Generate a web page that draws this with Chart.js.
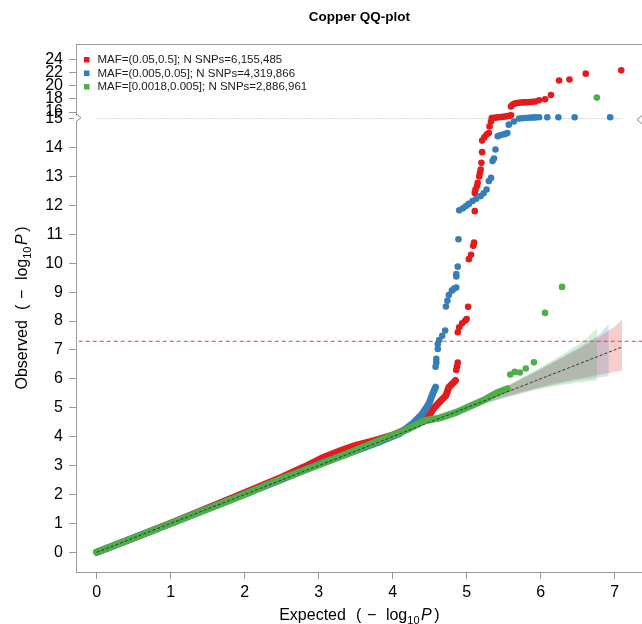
<!DOCTYPE html>
<html>
<head>
<meta charset="utf-8">
<script src="https://cdn.jsdelivr.net/npm/chart.js@4.4.1/dist/chart.umd.min.js"></script>
<style>
  body { margin: 0; background: #fff; }
  #wrap { width: 642px; height: 624px; overflow: hidden; }
  canvas { display: block; }
</style>
</head>
<body>
<div id="wrap"><canvas id="qq" width="646" height="624"></canvas></div>
<script>
// ---------------- data (x = expected, y = observed) ----------------
const seriesLabels = [
    'MAF=(0.05,0.5]; N SNPs=6,155,485',
    'MAF=(0.005,0.05]; N SNPs=4,319,866',
    'MAF=[0.0018,0.005]; N SNPs=2,886,961'
];
const seriesColors = ['#E41A1C', '#377EB8', '#4DAF4A'];

const xTicks = [0, 1, 2, 3, 4, 5, 6, 7];
const yTicks = [0, 1, 2, 3, 4, 5, 6, 7, 8, 9, 10, 11, 12, 13, 14, 15, 16, 18, 20, 22, 24];

// dense bulk of each series (thick run of overlapping points)
const redBulk = [[0,0],[0.5,0.5],[1,1.01],[1.5,1.53],[2,2.06],[2.5,2.6],[2.8,2.95],[3.05,3.27],[3.3,3.52],
    [3.5,3.7],[3.75,3.86],[4,4.05],[4.2,4.28],[4.4,4.52],[4.5,4.76],[4.55,4.97],[4.63,5.19],[4.72,5.42],
    [4.76,5.71],[4.85,5.94]];
const blueBulk = [[0,0],[1,1],[2,2.01],[2.5,2.52],[3,3.05],[3.4,3.42],[3.8,3.8],[4.1,4.12],[4.27,4.45],
    [4.4,4.79],[4.49,5.14],[4.56,5.6],[4.58,5.71]];
const greenBulk = [[0,0],[1,1],[2,2],[2.5,2.55],[3,3.02],[3.3,3.32],[3.82,3.87],[4.2,4.25],[4.44,4.56],
    [4.63,4.64],[4.86,4.84],[5,5],[5.22,5.25],[5.41,5.52],[5.55,5.66]];

// single points in the tail
const redTail = [[4.86,6.31],[4.87,6.43],[4.88,6.56],[4.88,7.61],[4.9,7.78],[4.94,7.92],[4.98,8.01],[5,8.07],
    [5.02,8.49],[5.03,10.14],[5.06,10.29],[5.09,10.6],[5.1,10.71],[5.11,11.8],[5.11,12.43],[5.12,12.55],
    [5.14,12.67],[5.15,12.78],[5.17,13],[5.18,13.12],[5.19,13.24],[5.2,13.47],[5.21,13.84],[5.21,14.24],
    [5.24,14.35],[5.27,14.45],[5.3,14.5],[5.31,14.73],[5.33,14.9],[5.34,15.08],[5.37,15.12],[5.4,15.15],
    [5.43,15.2],[5.46,15.24],[5.49,15.28],[5.52,15.32],[5.55,15.38],[5.58,15.44],[5.6,15.5],[5.6,16.85],
    [5.62,17.1],[5.65,17.3],[5.68,17.38],[5.71,17.42],[5.74,17.45],[5.77,17.47],[5.8,17.48],[5.83,17.5],
    [5.86,17.52],[5.89,17.55],[5.93,17.6],[5.98,17.8],[6.06,17.93],[6.14,18.6],[6.25,20.8],[6.39,20.95],
    [6.61,21.85],[7.09,22.35]];
const blueTail = [[4.58,6.42],[4.59,6.56],[4.59,6.69],[4.61,7.03],[4.61,7.2],[4.63,7.34],[4.67,7.49],[4.71,7.67],
    [4.72,8.5],[4.74,8.7],[4.76,8.9],[4.8,9.05],[4.83,9.12],[4.86,9.16],[4.86,9.54],[4.86,9.62],[4.88,9.88],
    [4.89,10.83],[4.9,11.83],[4.95,11.9],[4.99,11.98],[5.03,12.05],[5.08,12.15],[5.13,12.23],[5.19,12.32],
    [5.23,12.42],[5.27,12.55],[5.3,12.84],[5.33,12.95],[5.35,13.53],[5.37,13.62],[5.39,13.93],[5.42,14.39],
    [5.45,14.42],[5.49,14.45],[5.52,14.47],[5.55,14.5],[5.57,14.79],[5.64,14.9],[5.71,15],[5.75,15.05],
    [5.79,15.1],[5.83,15.12],[5.87,15.15],[5.9,15.17],[5.93,15.18],[5.98,15.2],[6.09,15.2],[6.24,15.2],
    [6.46,15.2],[6.94,15.2]];
const greenTail = [[5.59,6.15],[5.65,6.24],[5.72,6.22],[5.8,6.36],[5.91,6.57],[6.06,8.28],[6.29,9.18],[6.76,18.2]];

// confidence bands: expected, lower, upper
const redBandX = [4.8, 5.6, 6.2, 6.7, 7.0, 7.1];
const redBandLo = [4.8, 5.45, 5.85, 6.1, 6.24, 6.28];
const redBandHi = [4.8, 5.8, 6.6, 7.3, 7.8, 8.04];
const blueBandX = [4.8, 5.5, 6.0, 6.5, 6.8, 6.92];
const blueBandLo = [4.8, 5.35, 5.7, 5.95, 6.05, 6.1];
const blueBandHi = [4.8, 5.7, 6.35, 7.05, 7.55, 7.9];
const greenBandX = [4.8, 5.4, 5.9, 6.3, 6.6, 6.76];
const greenBandLo = [4.8, 5.25, 5.6, 5.8, 5.9, 5.94];
const greenBandHi = [4.8, 5.55, 6.25, 6.85, 7.35, 7.74];

const diagonal = [[0,0],[7.1,7.1]];
const gwsLevel = 7.3;      // -log10(5e-8)
const breakAt = 15;        // axis break
const breakScale = 0.227;  // compression above the break
const breakLine = [[0,15],[7.1,15]];

// ---------------- helpers ----------------
const FONT = '"Liberation Sans", Arial, Helvetica, sans-serif';

// y above the break is squeezed
function yt(y) {
    return y <= breakAt ? y : breakAt + (y - breakAt) * breakScale;
}
function toXY(pairs) {
    return pairs.map(p => ({ x: p[0], y: yt(p[1]) }));
}
function bandShape(xs, lo, hi) {
    const up = xs.map((x, i) => ({ x: x, y: yt(hi[i]) }));
    const dn = xs.map((x, i) => ({ x: x, y: yt(lo[i]) })).reverse();
    return up.concat(dn);
}
function rgba(hex, a) {
    const n = parseInt(hex.slice(1), 16);
    return 'rgba(' + (n >> 16) + ',' + ((n >> 8) & 255) + ',' + (n & 255) + ',' + a + ')';
}

function pointSet(data, color, order) {
    return { data: toXY(data), backgroundColor: color, borderWidth: 0, pointRadius: 3.3,
        pointHoverRadius: 3.3, showLine: false, order: order };
}
function bulkSet(data, color, order) {
    return { data: toXY(data), borderColor: color, borderWidth: 7, pointRadius: 0, showLine: true,
        borderCapStyle: 'round', borderJoinStyle: 'round', tension: 0, order: order };
}
function bandSet(shape, color, order) {
    return { data: shape, showLine: true, fill: 'shape', backgroundColor: rgba(color, 0.22),
        borderWidth: 0, pointRadius: 0, order: order };
}

const datasets = [
    { data: toXY(diagonal), borderColor: '#333', borderWidth: 1, borderDash: [3, 2], showLine: true, pointRadius: 0, order: 0 },
    pointSet(greenTail, seriesColors[2], 1),
    bulkSet(greenBulk, seriesColors[2], 2),
    pointSet(blueTail, seriesColors[1], 3),
    bulkSet(blueBulk, seriesColors[1], 4),
    pointSet(redTail, seriesColors[0], 5),
    bulkSet(redBulk, seriesColors[0], 6),
    { data: [{ x: -1, y: gwsLevel }, { x: 8, y: gwsLevel }], borderColor: '#D9404A', borderWidth: 1,
      borderDash: [4, 3], showLine: true, pointRadius: 0, order: 7 },
    { data: toXY(breakLine), borderColor: '#d4d4d4', borderWidth: 1, borderDash: [2, 1], showLine: true,
      pointRadius: 0, order: 8 },
    bandSet(bandShape(greenBandX, greenBandLo, greenBandHi), seriesColors[2], 9),
    bandSet(bandShape(blueBandX, blueBandLo, blueBandHi), seriesColors[1], 10),
    bandSet(bandShape(redBandX, redBandLo, redBandHi), seriesColors[0], 11)
];

// draws "Word  ( − log10 P )" starting at x
function drawMathLabel(ctx, word, x, y) {
    ctx.font = '16px ' + FONT;
    const w = ctx.measureText(word).width;
    ctx.fillText(word, x, y);
    ctx.fillText('(', x + w + 10, y);
    ctx.fillText('\u2212', x + w + 21, y);
    ctx.fillText('log', x + w + 40, y);
    const lw = ctx.measureText('log').width;
    ctx.font = '11px ' + FONT;
    ctx.fillText('10', x + w + 40 + lw, y + 4);
    const sw = ctx.measureText('10').width;
    ctx.font = 'italic 16px ' + FONT;
    ctx.fillText('P', x + w + 41.5 + lw + sw, y);
    const pw = ctx.measureText('P').width;
    ctx.font = '16px ' + FONT;
    ctx.fillText(')', x + w + 44 + lw + sw + pw, y);
}
function mathLabelWidth(ctx, word) {
    ctx.save();
    ctx.font = '16px ' + FONT;
    const w = ctx.measureText(word).width + ctx.measureText('log').width + ctx.measureText(')').width;
    ctx.font = '11px ' + FONT;
    const sw = ctx.measureText('10').width;
    ctx.font = 'italic 16px ' + FONT;
    const pw = ctx.measureText('P').width;
    ctx.restore();
    return w + sw + pw + 44;
}

// box top, axis breaks, legend and axis titles
const decor = {
    id: 'decor',
    afterDraw(chart) {
        const ctx = chart.ctx;
        const a = chart.chartArea;
        const ys = chart.scales.y;
        const yb = ys.getPixelForValue(breakAt);
        ctx.save();

        // top side of the box (the right side falls outside the picture)
        ctx.strokeStyle = '#999';
        ctx.lineWidth = 1;
        ctx.beginPath();
        ctx.moveTo(a.left, a.top + 0.5);
        ctx.lineTo(a.right + 4, a.top + 0.5);
        ctx.stroke();

        // break marks on the axes
        ctx.fillStyle = '#fff';
        ctx.fillRect(a.left - 2, yb - 3, 4, 6);
        ctx.strokeStyle = '#888';
        ctx.beginPath();
        ctx.moveTo(a.left, yb - 5);
        ctx.lineTo(a.left + 5, yb - 1);
        ctx.lineTo(a.left, yb + 3);
        ctx.stroke();
        ctx.beginPath();
        ctx.moveTo(a.left + 566, yb - 3);
        ctx.lineTo(a.left + 561, yb + 1);
        ctx.lineTo(a.left + 566, yb + 5);
        ctx.stroke();

        // legend
        ctx.font = '11.5px ' + FONT;
        ctx.textBaseline = 'middle';
        ctx.textAlign = 'left';
        seriesLabels.forEach((lab, i) => {
            const ly = a.top + 16 + i * 13.5;
            ctx.fillStyle = seriesColors[i];
            ctx.fillRect(a.left + 8, ly - 3, 5.5, 5.5);
            ctx.fillStyle = '#1a1a1a';
            ctx.fillText(lab, a.left + 21.5, ly);
        });

        // axis titles
        ctx.fillStyle = '#000';
        ctx.textBaseline = 'alphabetic';
        const cx = (a.left + a.right) / 2;
        const xw = mathLabelWidth(ctx, 'Expected');
        drawMathLabel(ctx, 'Expected', cx - xw / 2, 620);

        const cy = (a.top + a.bottom) / 2;
        const yw = mathLabelWidth(ctx, 'Observed');
        ctx.translate(26.5, cy);
        ctx.rotate(-Math.PI / 2);
        drawMathLabel(ctx, 'Observed', -yw / 2, 0);
        ctx.restore();
    }
};

const axisGrid = { drawOnChartArea: false, drawTicks: true, tickLength: 7, color: '#999' };

new Chart(document.getElementById('qq'), {
    type: 'scatter',
    data: { datasets: datasets },
    options: {
        responsive: false,
        animation: false,
        events: [],
        layout: { padding: { left: 0, right: 2, top: 0, bottom: 0 } },
        plugins: {
            legend: { display: false },
            tooltip: { enabled: false },
            title: {
                display: true,
                text: 'Copper QQ-plot',
                fullSize: false,
                color: '#000',
                font: { family: FONT, size: 13.5, weight: 'bold' },
                padding: { top: 9.5, bottom: 18.3 }
            }
        },
        scales: {
            x: {
                type: 'linear',
                min: -0.28,
                max: 7.38,
                afterBuildTicks: s => { s.ticks = xTicks.map(v => ({ value: v })); },
                afterFit: s => { s.height = 52; },
                grid: axisGrid,
                border: { color: '#999', width: 1 },
                ticks: { autoSkip: false, maxRotation: 0, padding: 4, color: '#000',
                         font: { family: FONT, size: 16 } }
            },
            y: {
                type: 'linear',
                min: -0.68,
                max: 17.58,
                afterBuildTicks: s => { s.ticks = yTicks.map(v => ({ value: yt(v) })); },
                afterFit: s => { s.width = 76; },
                grid: axisGrid,
                border: { color: '#999', width: 1 },
                ticks: { autoSkip: false, padding: 6, color: '#000',
                         font: { family: FONT, size: 16 },
                         callback: (v, i) => String(yTicks[i]) }
            }
        }
    },
    plugins: [decor]
});
</script>
</body>
</html>
